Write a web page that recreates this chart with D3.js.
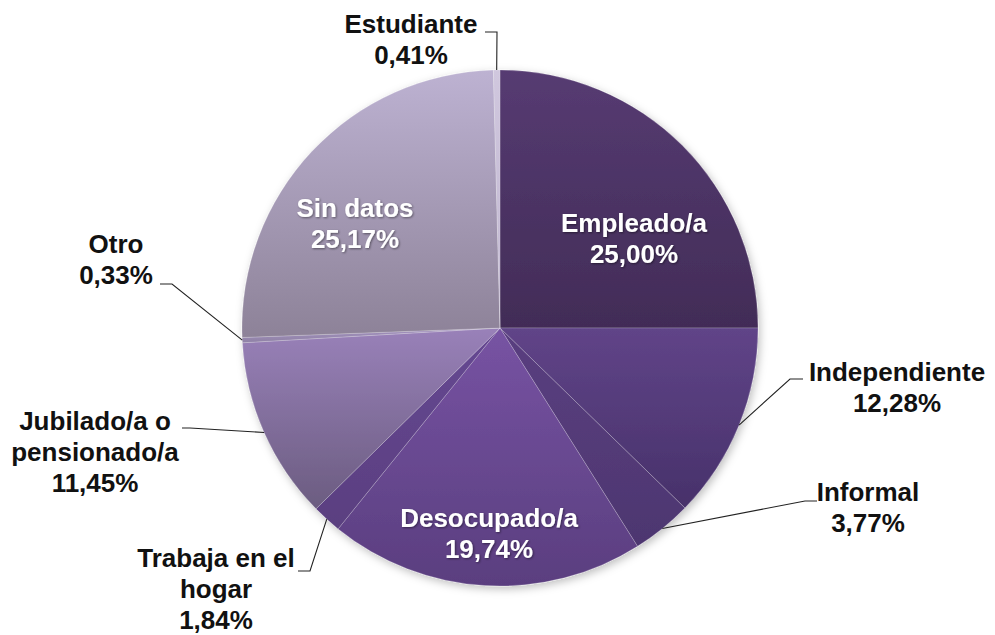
<!DOCTYPE html>
<html>
<head>
<meta charset="utf-8">
<script src="https://cdn.jsdelivr.net/npm/d3@7"></script>
<style>
  body { margin: 0; background: #fff; }
  svg text { font-family: "Liberation Sans", Arial, sans-serif; font-weight: bold; }
</style>
</head>
<body>
<svg id="chart" width="995" height="635"></svg>
<script>
// data, clockwise from 12 o'clock
const categories = ['Empleado/a', 'Independiente', 'Informal', 'Desocupado/a', 'Trabaja en el hogar',
  'Jubilado/a o pensionado/a', 'Otro', 'Sin datos', 'Estudiante'];
const values = [25.00, 12.28, 3.77, 19.74, 1.84, 11.45, 0.33, 25.17, 0.41];
const labelLines = [
  ['Empleado/a'], ['Independiente'], ['Informal'], ['Desocupado/a'], ['Trabaja en el', 'hogar'],
  ['Jubilado/a o', 'pensionado/a'], ['Otro'], ['Sin datos'], ['Estudiante']
];

// gradient colours per slice (top, bottom)
const colorsTop = ['#563b72', '#604488', '#5a3f80', '#7753a3', '#664892', '#9981b9', '#a392bf', '#bdb2d2', '#d0c7de'];
const colorsBottom = ['#422c57', '#47316a', '#4d3670', '#5a3e7f', '#5a3f80', '#6b5c80', '#8f81a5', '#8d8298', '#bfb5cf'];

// label layout: inside or outside, block centre x, first baseline y, leader elbow
const labelLayout = [
  { inside: true, x: 634, y: 232 },
  { inside: false, x: 897, y: 381, elbow: 790, lineEnd: 803, lineY: 379 },
  { inside: false, x: 868, y: 501, elbow: 805, lineEnd: 817, lineY: 501 },
  { inside: true, x: 489, y: 527 },
  { inside: false, x: 216, y: 567, elbow: 310, lineEnd: 298, lineY: 571 },
  { inside: false, x: 95, y: 430, elbow: 190, lineEnd: 182, lineY: 428 },
  { inside: false, x: 116, y: 253, elbow: 172, lineEnd: 160, lineY: 284 },
  { inside: true, x: 355, y: 217 },
  { inside: false, x: 411, y: 33, elbow: 497, lineEnd: 485, lineY: 32 }
];

const cx = 500, cy = 328, radius = 258, lineH = 31;
const svg = d3.select('#chart');
const defs = svg.append('defs');

const shadow = defs.append('filter').attr('id', 'shadow')
  .attr('x', '-10%').attr('y', '-10%').attr('width', '120%').attr('height', '120%');
shadow.append('feDropShadow')
  .attr('dx', 2).attr('dy', 3).attr('stdDeviation', 4)
  .attr('flood-color', '#000').attr('flood-opacity', 0.25);

const txtShadow = defs.append('filter').attr('id', 'txtShadow');
txtShadow.append('feDropShadow')
  .attr('dx', 1).attr('dy', 1).attr('stdDeviation', 0.8)
  .attr('flood-color', '#000').attr('flood-opacity', 0.45);

values.forEach((v, i) => {
  const g = defs.append('linearGradient').attr('id', 'grad' + i)
    .attr('x1', 0).attr('y1', 0).attr('x2', 0).attr('y2', 1);
  g.append('stop').attr('offset', '0%').attr('stop-color', colorsTop[i]);
  g.append('stop').attr('offset', '100%').attr('stop-color', colorsBottom[i]);
});

const pie = d3.pie().sort(null).value(d => d)(values);
const arc = d3.arc().innerRadius(0).outerRadius(radius);
const edgeArc = d3.arc().innerRadius(radius).outerRadius(radius);

const g = svg.append('g').attr('transform', `translate(${cx},${cy})`);

g.append('g').attr('filter', 'url(#shadow)')
  .selectAll('path')
  .data(pie)
  .enter().append('path')
  .attr('d', arc)
  .attr('fill', (d, i) => `url(#grad${i})`)
  .attr('stroke', 'rgba(255,255,255,0.25)')
  .attr('stroke-width', 0.8);

const fmt = v => v.toFixed(2).replace('.', ',') + '%';

// leader lines for outside labels
pie.forEach((d, i) => {
  const L = labelLayout[i];
  if (L.inside) return;
  const p = edgeArc.centroid(d);
  const pts = [[L.lineEnd, L.lineY], [L.elbow, L.lineY], [p[0] + cx, p[1] + cy]];
  svg.append('path')
    .attr('d', d3.line()(pts))
    .attr('fill', 'none')
    .attr('stroke', '#222')
    .attr('stroke-width', 1.1);
});

// labels
pie.forEach((d, i) => {
  const L = labelLayout[i];
  const lines = labelLines[i].concat([fmt(values[i])]);
  const t = svg.append('text')
    .attr('text-anchor', 'middle')
    .attr('font-size', 26)
    .attr('fill', L.inside ? '#fff' : '#111');
  if (L.inside) t.attr('filter', 'url(#txtShadow)');
  lines.forEach((s, k) => {
    t.append('tspan')
      .attr('x', L.x)
      .attr('y', L.y + k * lineH)
      .text(s);
  });
});
</script>
</body>
</html>
